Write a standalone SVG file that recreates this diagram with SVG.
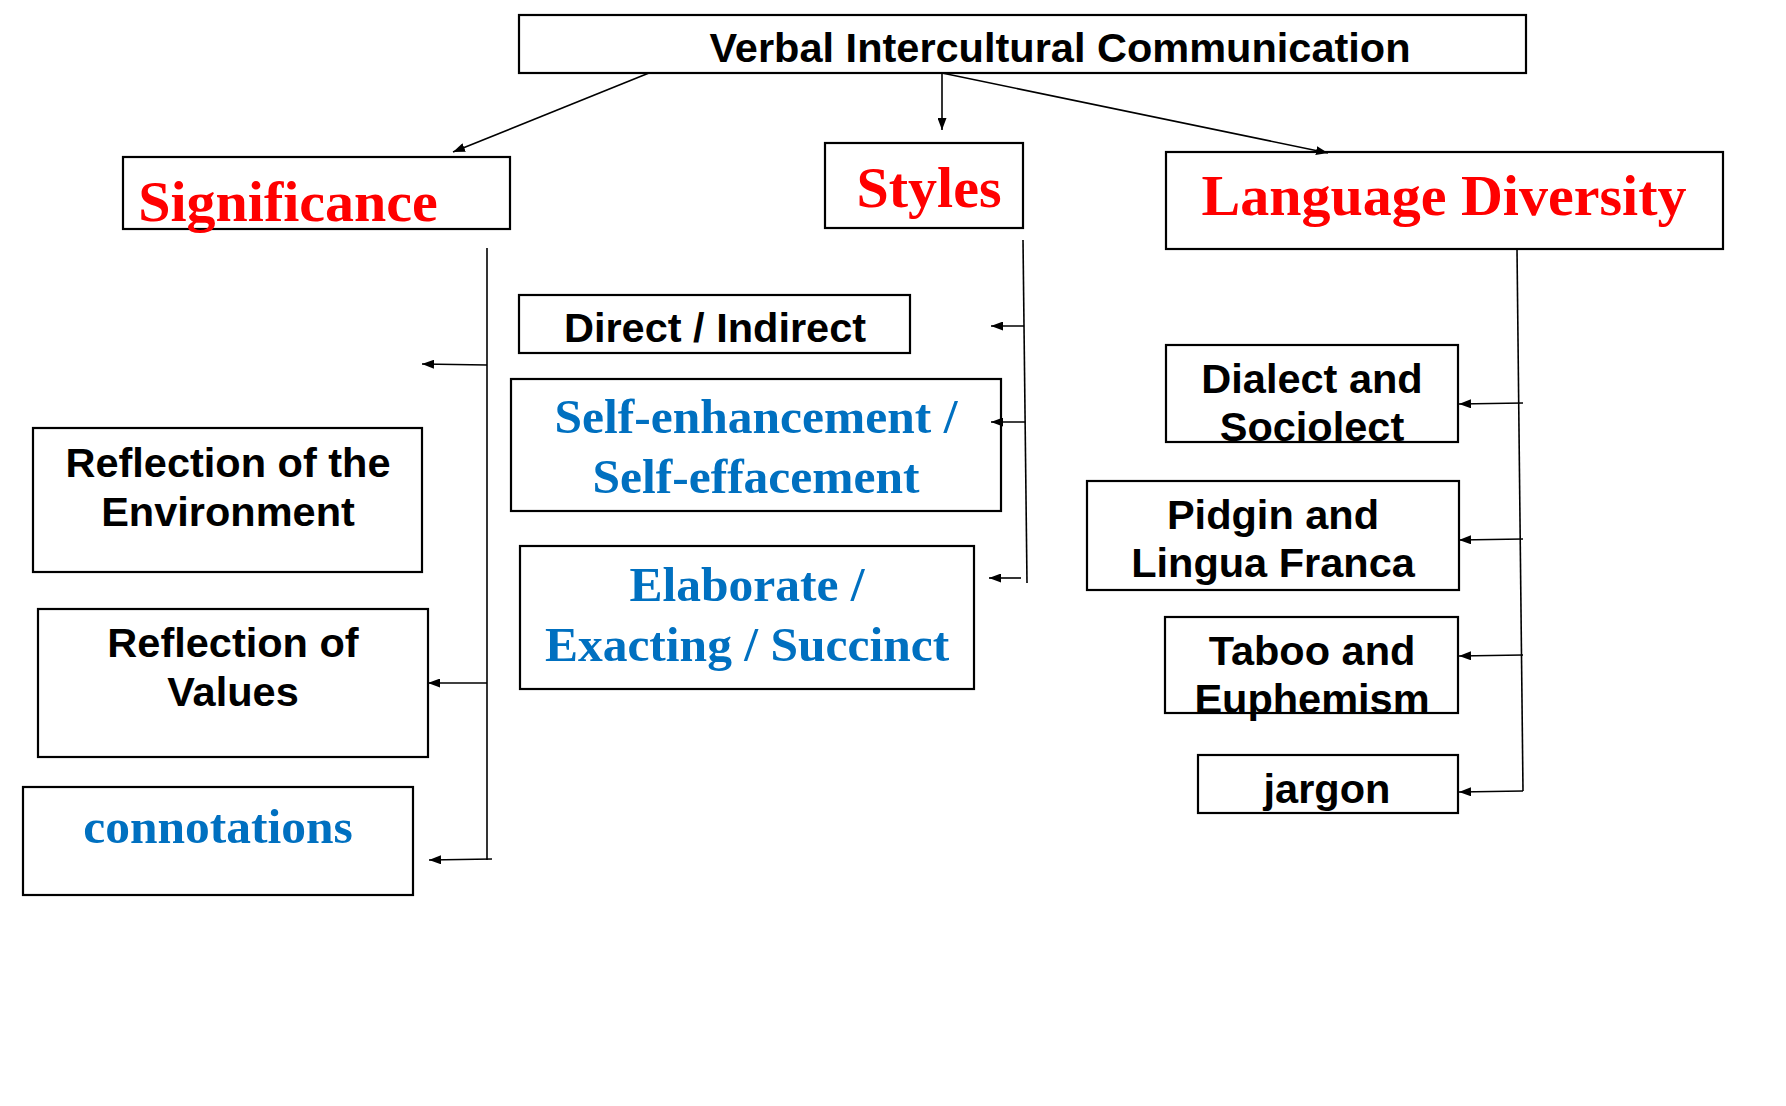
<svg xmlns="http://www.w3.org/2000/svg" width="1786" height="1106" viewBox="0 0 1786 1106">
<style>
.box{fill:#fff;stroke:#000;stroke-width:2.2}
.sans{font-family:"Liberation Sans",Arial,sans-serif;font-weight:bold;fill:#000;font-size:41.5px;text-anchor:middle}
.serif{font-family:"Liberation Serif","Times New Roman",serif;font-weight:bold;text-anchor:middle}
.red{fill:#FF0000;font-size:58px}
.blue{fill:#0070C0;font-size:49.5px}
.conn line,.conn polyline{stroke:#000;stroke-width:1.6;fill:none}
.arr{marker-end:url(#ah)}
</style>
<defs>
<marker id="ah" viewBox="0 0 12 9" refX="12" refY="4.5" markerWidth="12" markerHeight="9" markerUnits="userSpaceOnUse" orient="auto">
<path d="M0,0 L12,4.5 L0,9 Z" fill="#000"/>
</marker>
</defs>
<rect width="1786" height="1106" fill="#fff"/>

<g id="n-root">
<rect class="box" x="519" y="15" width="1007" height="58"/>
<text class="sans" x="1060" y="62" font-size="42.2">Verbal Intercultural Communication</text>
</g>

<g id="n-significance">
<rect class="box" x="123" y="157" width="387" height="72"/>
<text class="serif red" x="288" y="221">Significance</text>
</g>

<g id="n-styles">
<rect class="box" x="825" y="143" width="198" height="85"/>
<text class="serif red" x="929" y="207" font-size="57">Styles</text>
</g>

<g id="n-language-diversity">
<rect class="box" x="1166" y="152" width="557" height="97"/>
<text class="serif red" x="1444" y="215">Language Diversity</text>
</g>

<g id="n-environment">
<rect class="box" x="33" y="428" width="389" height="144"/>
<text class="sans" x="228" y="477">Reflection of the</text>
<text class="sans" x="228" y="526">Environment</text>
</g>

<g id="n-values">
<rect class="box" x="38" y="609" width="390" height="148"/>
<text class="sans" x="233" y="657">Reflection of</text>
<text class="sans" x="233" y="706">Values</text>
</g>

<g id="n-connotations">
<rect class="box" x="23" y="787" width="390" height="108"/>
<text class="serif blue" x="218" y="843">connotations</text>
</g>

<g id="n-direct">
<rect class="box" x="519" y="295" width="391" height="58"/>
<text class="sans" x="715" y="342">Direct / Indirect</text>
</g>

<g id="n-self">
<rect class="box" x="511" y="379" width="490" height="132"/>
<text class="serif blue" x="756" y="433">Self-enhancement /</text>
<text class="serif blue" x="756" y="493">Self-effacement</text>
</g>

<g id="n-elaborate">
<rect class="box" x="520" y="546" width="454" height="143"/>
<text class="serif blue" x="747" y="601">Elaborate /</text>
<text class="serif blue" x="747" y="661">Exacting / Succinct</text>
</g>

<g id="n-dialect">
<rect class="box" x="1166" y="345" width="292" height="97"/>
<text class="sans" x="1312" y="393">Dialect and</text>
<text class="sans" x="1312" y="441">Sociolect</text>
</g>

<g id="n-pidgin">
<rect class="box" x="1087" y="481" width="372" height="109"/>
<text class="sans" x="1273" y="529">Pidgin and</text>
<text class="sans" x="1273" y="577">Lingua Franca</text>
</g>

<g id="n-taboo">
<rect class="box" x="1165" y="617" width="293" height="96"/>
<text class="sans" x="1312" y="665">Taboo and</text>
<text class="sans" x="1312" y="713">Euphemism</text>
</g>

<g id="n-jargon">
<rect class="box" x="1198" y="755" width="260" height="58"/>
<text class="sans" x="1327" y="803">jargon</text>
</g>

<g id="connectors" class="conn">
<line class="arr" x1="649" y1="73" x2="453" y2="152"/>
<line class="arr" x1="942" y1="73" x2="942" y2="130"/>
<line class="arr" x1="942" y1="73" x2="1328" y2="153"/>
<line x1="487" y1="248" x2="487" y2="860"/>
<line class="arr" x1="487" y1="365" x2="422" y2="364"/>
<line class="arr" x1="487" y1="683" x2="428" y2="683"/>
<line class="arr" x1="492" y1="859" x2="429" y2="860"/>
<line x1="1023" y1="240" x2="1027" y2="583"/>
<line class="arr" x1="1024" y1="326" x2="991" y2="326"/>
<line class="arr" x1="1025" y1="422" x2="991" y2="422"/>
<line class="arr" x1="1021" y1="578" x2="989" y2="578"/>
<line x1="1517" y1="249" x2="1523" y2="791"/>
<line class="arr" x1="1523" y1="403" x2="1459" y2="404"/>
<line class="arr" x1="1523" y1="539" x2="1459" y2="540"/>
<line class="arr" x1="1523" y1="655" x2="1459" y2="656"/>
<line class="arr" x1="1523" y1="791" x2="1459" y2="792"/>
</g>
</svg>
